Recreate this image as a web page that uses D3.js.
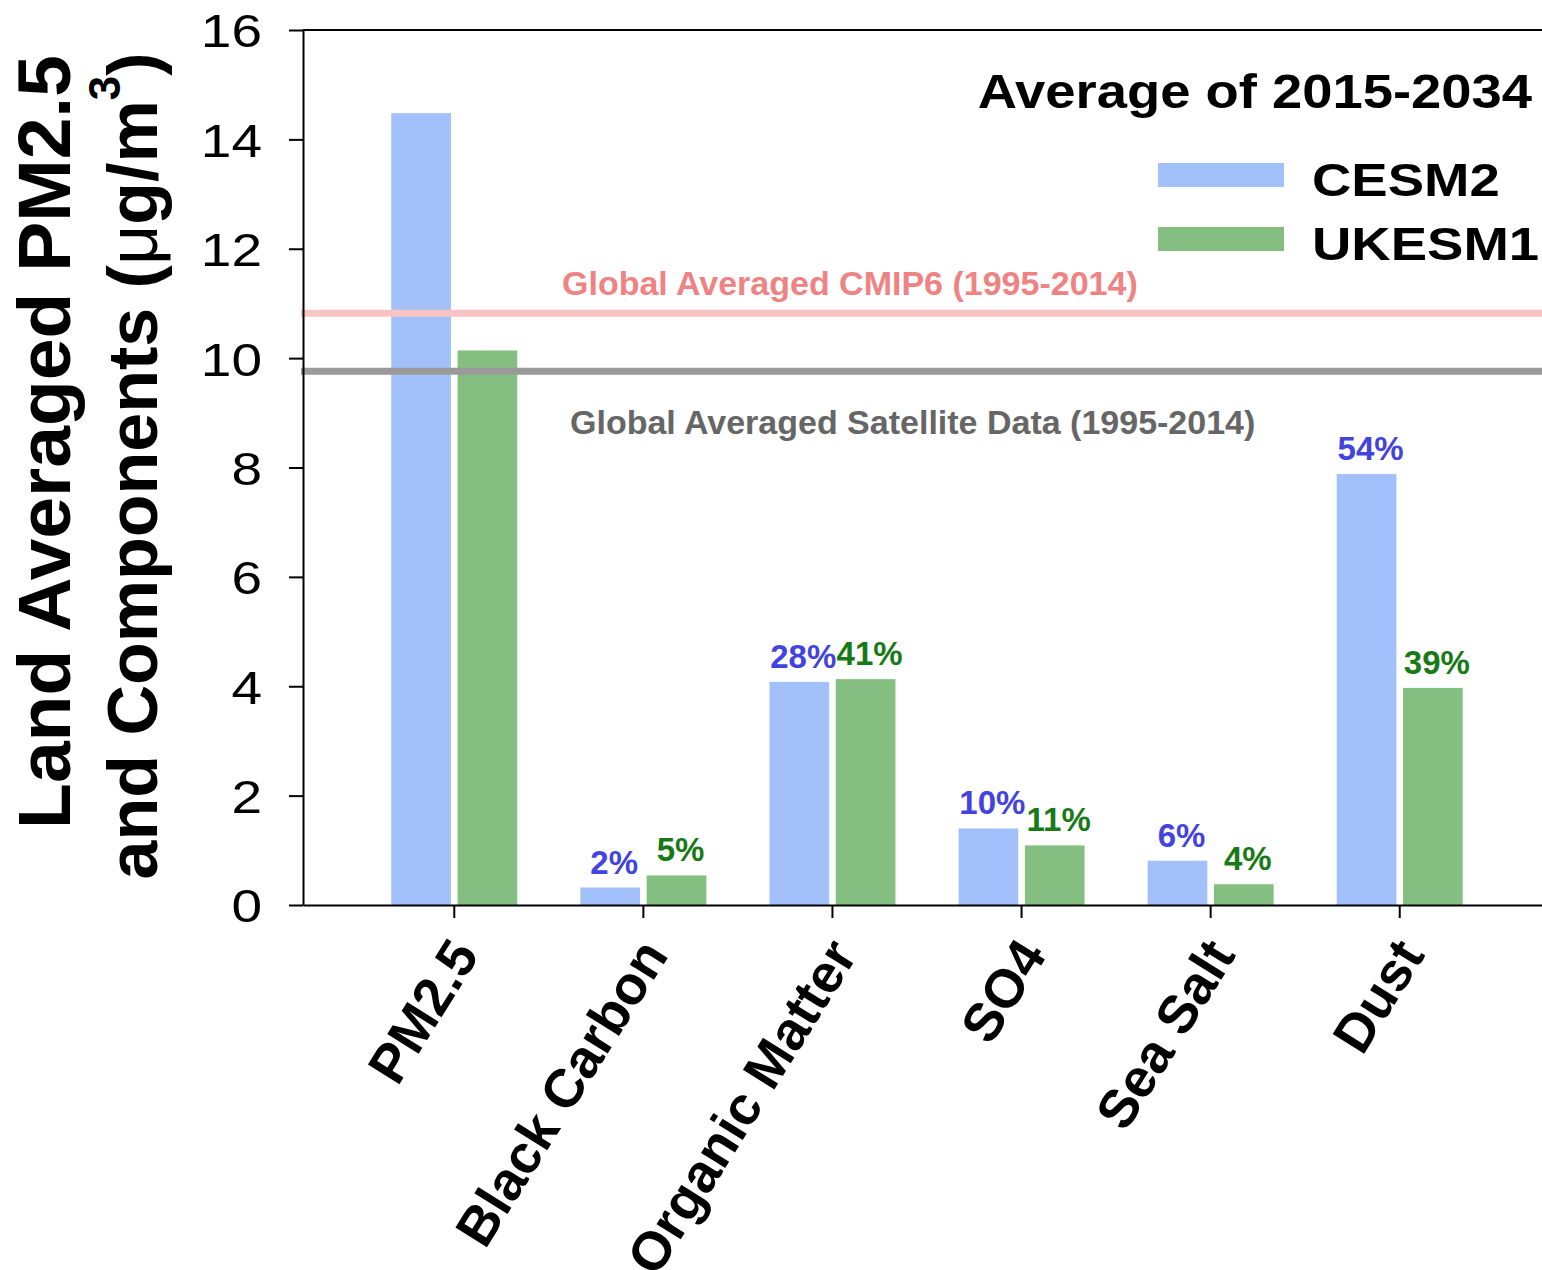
<!DOCTYPE html>
<html>
<head>
<meta charset="utf-8">
<script src="https://cdn.jsdelivr.net/npm/d3@7"></script>
<style>
  html, body { margin: 0; padding: 0; background: #fff; overflow: hidden; }
  svg { display: block; font-family: "Liberation Sans", Arial, Helvetica, sans-serif; }
</style>
</head>
<body>
<svg id="chart" width="1542" height="1270"></svg>
<script>
// Land-averaged PM2.5 and its components (µg/m³), mean of 2015-2034
const categories = ["PM2.5", "Black Carbon", "Organic Matter", "SO4", "Sea Salt", "Dust"];
const seriesNames = ["CESM2", "UKESM1"];
const cesm2Values = [14.48, 0.32, 4.08, 1.40, 0.81, 7.88];
const ukesm1Values = [10.14, 0.54, 4.13, 1.09, 0.38, 3.97];
const yTickValues = [0, 2, 4, 6, 8, 10, 12, 14, 16];
const refValues = [10.82, 9.76];
const refLabels = ["Global Averaged CMIP6 (1995-2014)", "Global Averaged Satellite Data (1995-2014)"];
const legendTitle = "Average of 2015-2034";

const seriesValues = [cesm2Values, ukesm1Values];
const barColors = ["#a2c0fa", "#84bf81"];
const pctColors = ["#4343e0", "#177a17"];
const refLineColors = ["#f8c3c3", "#9a9a9a"];
const refTextColors = ["#ef8383", "#666666"];

const svg = d3.select("#chart");
const plot = { left: 303, right: 1551, top: 30, bottom: 905 };

const y = d3.scaleLinear().domain([0, 16]).range([plot.bottom, plot.top]);
const x = d3.scaleBand().domain(categories).range([plot.left, plot.right])
  .paddingInner(0).paddingOuter(0.3);
const groupWidth = 126;
const xs = d3.scaleBand().domain(seriesNames).range([0, groupWidth]).paddingInner(0.1);
const center = c => x(c) + x.bandwidth() / 2;

// bars
const barData = [];
categories.forEach((c, i) => {
  seriesNames.forEach((s, k) => {
    barData.push({ cat: c, series: s, k, value: seriesValues[k][i], total: seriesValues[k][0], idx: i });
  });
});

svg.append("g").selectAll("rect")
  .data(barData)
  .join("rect")
  .attr("x", d => center(d.cat) - groupWidth / 2 + xs(d.series))
  .attr("width", xs.bandwidth())
  .attr("y", d => y(d.value))
  .attr("height", d => y(0) - y(d.value))
  .attr("fill", d => barColors[d.k]);

// share of total PM2.5 above each component bar
svg.append("g").selectAll("text")
  .data(barData.filter(d => d.idx > 0))
  .join("text")
  .attr("x", d => center(d.cat) - groupWidth / 2 + xs(d.series) + xs.bandwidth() / 2 + 4)
  .attr("y", d => y(d.value) - 14)
  .attr("text-anchor", "middle")
  .attr("font-size", 33)
  .attr("font-weight", "bold")
  .attr("fill", d => pctColors[d.k])
  .text(d => Math.round(d.value / d.total * 100) + "%");

// reference lines
svg.append("g").selectAll("line")
  .data(refValues)
  .join("line")
  .attr("x1", plot.left - 2)
  .attr("x2", plot.right)
  .attr("y1", d => y(d))
  .attr("y2", d => y(d))
  .attr("stroke", (d, i) => refLineColors[i])
  .attr("stroke-width", 7);

svg.append("text")
  .attr("x", 562).attr("y", y(refValues[0]) - 18)
  .attr("font-size", 34).attr("font-weight", "bold")
  .attr("fill", refTextColors[0])
  .text(refLabels[0]);

svg.append("text")
  .attr("x", 570).attr("y", y(refValues[1]) + 63)
  .attr("font-size", 34).attr("font-weight", "bold")
  .attr("fill", refTextColors[1])
  .text(refLabels[1]);

// frame top and right
svg.append("path")
  .attr("d", `M${plot.left},${plot.top}H${plot.right}V${plot.bottom}`)
  .attr("fill", "none").attr("stroke", "#000").attr("stroke-width", 2);

// y axis
const yAxis = svg.append("g")
  .attr("transform", `translate(${plot.left},0)`)
  .call(d3.axisLeft(y).tickValues(yTickValues).tickSize(14).tickSizeOuter(0));
yAxis.select(".domain").attr("stroke", "#000").attr("stroke-width", 2);
yAxis.selectAll(".tick line").attr("stroke", "#000").attr("stroke-width", 2);
yAxis.selectAll(".tick text")
  .attr("x", 0).attr("dy", "0.36em")
  .attr("transform", "translate(-41,0) scale(1.17,1)")
  .attr("text-anchor", "end")
  .attr("font-family", null)
  .attr("font-size", 47)
  .attr("fill", "#000");

// x axis
const xAxis = svg.append("g")
  .attr("transform", `translate(0,${plot.bottom})`)
  .call(d3.axisBottom(x).tickSize(13).tickSizeOuter(0));
xAxis.select(".domain").attr("stroke", "#000").attr("stroke-width", 2);
xAxis.selectAll(".tick line").attr("stroke", "#000").attr("stroke-width", 2);
xAxis.selectAll(".tick text")
  .attr("y", 0).attr("dy", 0)
  .attr("transform", "translate(26,50) rotate(-58)")
  .attr("text-anchor", "end")
  .attr("font-family", null)
  .attr("font-size", 54)
  .attr("font-weight", "bold")
  .attr("fill", "#000");

// y axis title (two lines)
svg.append("text")
  .attr("transform", "translate(70,442) rotate(-90)")
  .attr("text-anchor", "middle")
  .attr("font-size", 75).attr("font-weight", "bold")
  .text("Land Averaged PM2.5");

const t2 = svg.append("text")
  .attr("transform", "translate(157,466) rotate(-90)")
  .attr("text-anchor", "middle")
  .attr("font-size", 70).attr("font-weight", "bold");
t2.append("tspan").text("and Components (");
t2.append("tspan").attr("font-weight", "normal").text("\u03bc");
t2.append("tspan").text("g/m");
t2.append("tspan").attr("font-size", 44).attr("dy", -37).text("3");
t2.append("tspan").attr("dy", 37).text(")");

// legend
svg.append("text")
  .attr("transform", "translate(1532,108) scale(1.11,1)")
  .attr("text-anchor", "end")
  .attr("font-size", 49).attr("font-weight", "bold")
  .text(legendTitle);

const legendRows = [175, 239];
seriesNames.forEach((s, k) => {
  svg.append("rect")
    .attr("x", 1158).attr("y", legendRows[k] - 12)
    .attr("width", 126).attr("height", 24)
    .attr("fill", barColors[k]);
  svg.append("text")
    .attr("transform", `translate(1312,${legendRows[k] + 21}) scale(1.16,1)`)
    .attr("font-size", 47).attr("font-weight", "bold")
    .text(s);
});
</script>
</body>
</html>
